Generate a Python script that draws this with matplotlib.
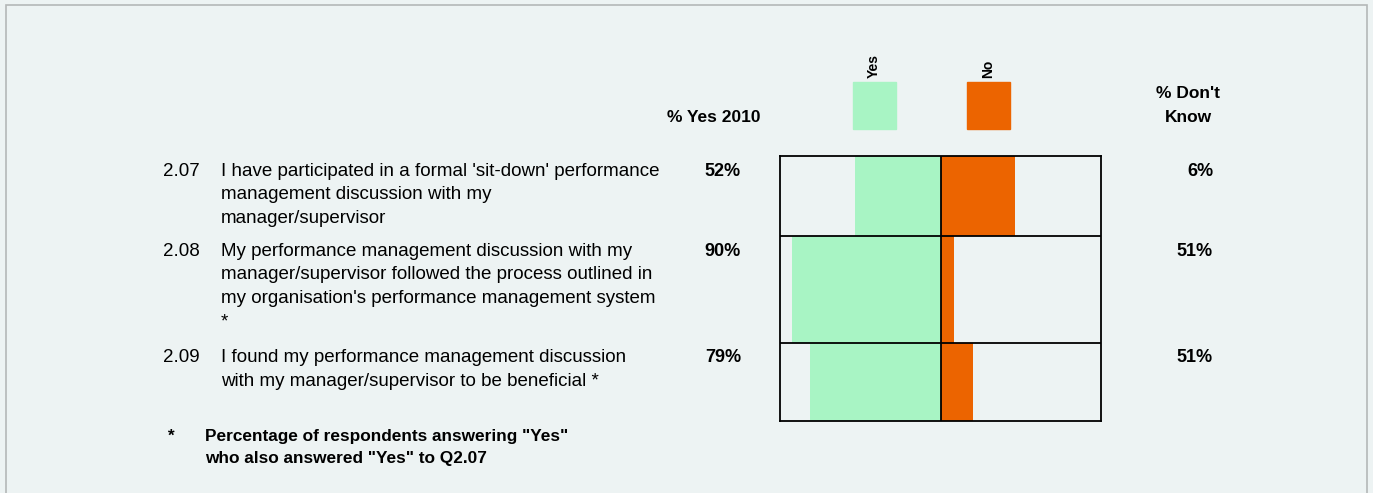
import matplotlib.pyplot as plt
from matplotlib.patches import Rectangle

plt.rcParams['font.family'] = ['Liberation Sans', 'DejaVu Sans']

# survey items
codes = ['2.07', '2.08', '2.09']
questions = [
    ["I have participated in a formal 'sit-down' performance",
     'management discussion with my',
     'manager/supervisor'],
    ['My performance management discussion with my',
     'manager/supervisor followed the process outlined in',
     "my organisation's performance management system",
     '*'],
    ['I found my performance management discussion',
     'with my manager/supervisor to be beneficial *'],
]
yes_2010 = [52, 90, 79]
no_pct = [45, 8, 20]
dont_know = [6, 51, 51]

GREEN = '#a8f4c4'
ORANGE = '#ec6400'
BG = '#edf3f3'

W, H = 1373, 493
fig = plt.figure(figsize=(W / 100, H / 100), dpi=100)
fig.patch.set_facecolor(BG)


def fx(px):
    return px / W


def fy(py):
    return 1 - py / H


# outer frame
fig.patches.append(Rectangle((fx(6), fy(520)), fx(1367) - fx(6), fy(5) - fy(520),
                             transform=fig.transFigure, fill=False,
                             edgecolor='#b4b8b8', lw=1.2))

# row boundaries in pixels (rows differ in height with text length)
row_edges = [156, 236, 343, 421]
box_left, box_right = 780, 1101

ax = fig.add_axes([fx(box_left), fy(row_edges[-1]),
                   fx(box_right) - fx(box_left), fy(row_edges[0]) - fy(row_edges[-1])])
ax.set_facecolor(BG)
ax.set_xlim(-97.5, 97.5)
ax.set_ylim(row_edges[-1], row_edges[0])

for i in range(len(codes)):
    top, bot = row_edges[i], row_edges[i + 1]
    ax.barh((top + bot) / 2, -yes_2010[i], height=bot - top, left=0, color=GREEN)
    ax.barh((top + bot) / 2, no_pct[i], height=bot - top, left=0, color=ORANGE)

for e in row_edges[1:-1]:
    ax.axhline(e, color='black', lw=1.3)
ax.axvline(0, color='black', lw=1.3)
for s in ax.spines.values():
    s.set_linewidth(1.3)
ax.set_xticks([])
ax.set_yticks([])

# legend swatches
for x0, col, lab in [(853, GREEN, 'Yes'), (967, ORANGE, 'No')]:
    fig.patches.append(Rectangle((fx(x0), fy(129)), fx(43), fy(82) - fy(129),
                                 transform=fig.transFigure, color=col))
    fig.text(fx(x0 + 21), fy(78), lab, rotation=90, ha='center', va='bottom',
             fontsize=10, fontweight='bold')

hfs = 12.5
fig.text(fx(714), fy(118), '% Yes 2010', ha='center', va='center',
         fontsize=hfs, fontweight='bold')
fig.text(fx(1188), fy(94), "% Don't", ha='center', va='center',
         fontsize=hfs, fontweight='bold')
fig.text(fx(1188), fy(118), 'Know', ha='center', va='center',
         fontsize=hfs, fontweight='bold')

fs = 13.5
pfs = 13
for i, code in enumerate(codes):
    y0 = row_edges[i] + 15
    fig.text(fx(163), fy(y0), code, ha='left', va='center', fontsize=fs)
    for j, line in enumerate(questions[i]):
        fig.text(fx(221), fy(y0 + j * 23.7), line, ha='left', va='center', fontsize=fs)
    fig.text(fx(741), fy(y0), f'{yes_2010[i]}%', ha='right', va='center',
             fontsize=pfs, fontweight='bold')
    fig.text(fx(1213), fy(y0), f'{dont_know[i]}%', ha='right', va='center',
             fontsize=pfs, fontweight='bold')

# footnote
ffs = 12.4
fig.text(fx(167), fy(436), '*', ha='left', va='center', fontsize=ffs, fontweight='bold')
fig.text(fx(205), fy(436), 'Percentage of respondents answering "Yes"', ha='left',
         va='center', fontsize=ffs, fontweight='bold')
fig.text(fx(205), fy(459), 'who also answered "Yes" to Q2.07', ha='left',
         va='center', fontsize=ffs, fontweight='bold')

fig.savefig('out.png', dpi=100, facecolor=BG)
